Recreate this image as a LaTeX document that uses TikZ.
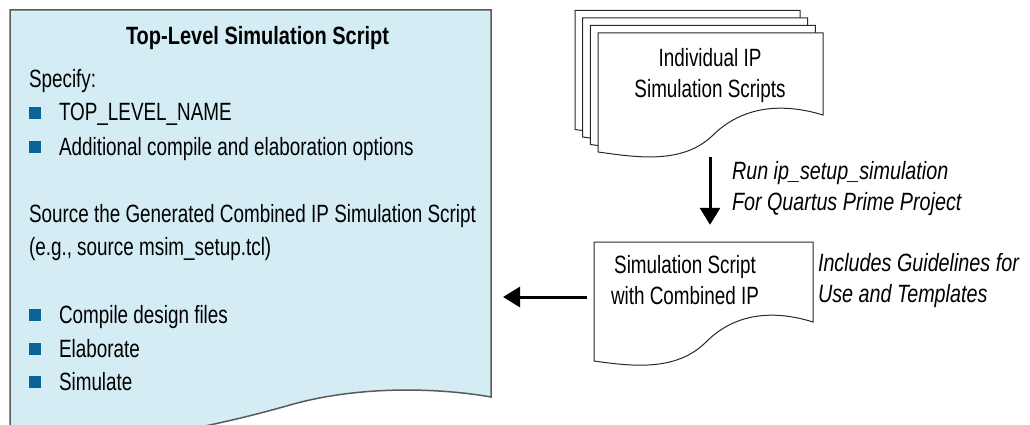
\documentclass[tikz,border=0pt]{standalone}
\usepackage{fontspec}
\setmainfont{Liberation Sans}[FakeStretch=0.755]
\newfontfamily\titlefont{Liberation Sans}[FakeStretch=0.8]
\newfontfamily\labelfont{Liberation Sans}[FakeStretch=0.79]
\usetikzlibrary{arrows.meta}
\definecolor{boxfill}{RGB}{212,236,244}
\definecolor{boxline}{RGB}{90,90,90}
\definecolor{bulletblue}{RGB}{10,100,150}
\definecolor{sheetline}{RGB}{40,40,40}
\newcommand\docsheet[5]{%
  \begin{scope}[shift={(#1,#2)}]
    \draw[sheet] (0,0) -- (#3,0) -- (#3,#4)
      .. controls ({0.826*#3},{#4-12}) and ({0.644*#3},{#4-10}) .. ({0.507*#3},{#4+21})
      .. controls ({0.37*#3},{#4+50}) and ({0.164*#3},{#5+5}) .. (0,#5) -- cycle;
  \end{scope}}
\begin{document}
\begin{tikzpicture}[x=1pt,y=-1pt,
  txt/.style={inner sep=0pt,outer sep=0pt,font=\fontsize{25}{31}\selectfont},
  ttl/.style={txt,font=\fontsize{25}{31}\selectfont\titlefont\bfseries},
  itl/.style={txt,font=\fontsize{25}{31}\selectfont\labelfont\itshape,align=left},
  bul/.style={rectangle,fill=bulletblue,minimum size=12pt,inner sep=0pt,outer sep=0pt},
  sheet/.style={draw=sheetline,line width=1pt,fill=white},
  arr/.style={line width=3pt,-{Triangle[length=17pt,width=20pt]}}]
\useasboundingbox (0,0) rectangle (1030,425);
% big box
\draw[draw=boxline,line width=1.5pt,fill=boxfill] (10,10) -- (491,10) -- (491,397)
  .. controls (440,388) and (360,385) .. (290,405)
  .. controls (220,425) and (120,447) .. (10,447) -- cycle;
\node[ttl,anchor=base] (title) at (257.5,45) {Top-Level Simulation Script};
\node[txt,anchor=base west] (spec) at (29,88) {Specify:};
\node[bul] (b1) at (35,113) {};
\node[txt,anchor=base west] (l1) at (59,121) {TOP\_LEVEL\_NAME};
\node[bul] (b2) at (35,147) {};
\node[txt,anchor=base west] (l2) at (59,155) {Additional compile and elaboration options};
\node[txt,anchor=base west] (src) at (29,222) {Source the Generated Combined IP Simulation Script};
\node[txt,anchor=base west] (eg) at (29,255) {(e.g., source msim\_setup.tcl)};
\node[bul] (b3) at (35,315) {};
\node[txt,anchor=base west] (l3) at (59,323) {Compile design files};
\node[bul] (b4) at (35,349) {};
\node[txt,anchor=base west] (l4) at (59,357) {Elaborate};
\node[bul] (b5) at (35,382) {};
\node[txt,anchor=base west] (l5) at (59,390) {Simulate};
\coordinate (topedge) at (491,297);
% stacked IP scripts
\docsheet{575}{10.5}{225}{82}{119}
\docsheet{582.7}{18}{225}{82}{119}
\docsheet{590.3}{25.5}{225}{82}{119}
\docsheet{598}{33}{225}{82}{119}
\node[minimum width=225pt,minimum height=119pt,inner sep=0pt] (ipsheet) at (710.5,92.5) {};
\node[txt,align=center] (ips) at (710,76) {Individual IP\\Simulation Scripts};
% combined script
\docsheet{594}{242}{219}{80}{119}
\node[minimum width=219pt,minimum height=110pt,inner sep=0pt] (combsheet) at (703.5,297) {};
\node[txt,align=center] (comb) at (685,280) {Simulation Script\\with Combined IP};
% labels
\node[itl,anchor=west] (run) at (732,189) {Run ip\_setup\_simulation\\For Quartus Prime Project};
\node[itl,anchor=west] (incl) at (818,281) {Includes Guidelines for\\Use and Templates};
% arrows
\draw[arr,shorten <=5pt,shorten >=17pt] (ipsheet.south -| 710,0) -- (combsheet.north -| 710,0);
\draw[arr,shorten <=7pt,shorten >=12pt] (combsheet.west) -- (topedge);
\end{tikzpicture}
\end{document}
